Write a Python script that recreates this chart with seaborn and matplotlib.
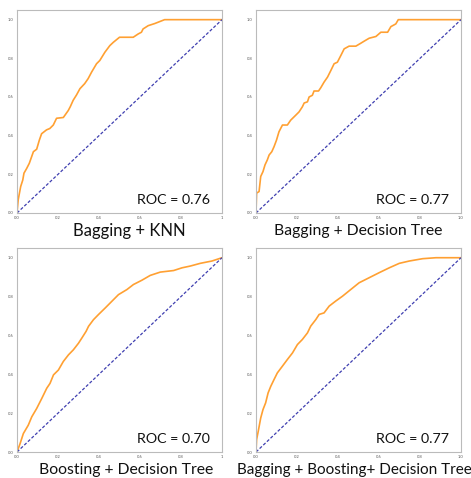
import numpy as np
import pandas as pd
import matplotlib
matplotlib.use('Agg')
import matplotlib.pyplot as plt
import seaborn as sns

# ROC curves (false positive rate, true positive rate)
knn_fpr = [0, 0.006, 0.018, 0.028, 0.034, 0.047, 0.06, 0.071, 0.08, 0.096, 0.109, 0.12, 0.144, 0.16,
           0.177, 0.193, 0.226, 0.234, 0.25, 0.26, 0.274, 0.29, 0.307, 0.33, 0.347, 0.364, 0.388,
           0.404, 0.429, 0.453, 0.47, 0.5, 0.567, 0.591, 0.607, 0.615, 0.64, 0.672, 0.696, 0.72, 1.0]
knn_tpr = [0, 0.069, 0.137, 0.17, 0.206, 0.23, 0.257, 0.29, 0.317, 0.33, 0.377, 0.41, 0.43, 0.437,
           0.455, 0.49, 0.494, 0.506, 0.53, 0.55, 0.583, 0.61, 0.643, 0.669, 0.695, 0.729, 0.772,
           0.789, 0.832, 0.866, 0.883, 0.909, 0.909, 0.926, 0.935, 0.952, 0.969, 0.98, 0.99, 1.0, 1.0]

bag_dt_fpr = [0, 0.003, 0.015, 0.023, 0.034, 0.044, 0.055, 0.064, 0.077, 0.088, 0.1, 0.112, 0.129,
              0.153, 0.169, 0.194, 0.21, 0.226, 0.235, 0.251, 0.259, 0.275, 0.283, 0.305, 0.316,
              0.332, 0.349, 0.365, 0.381, 0.397, 0.414, 0.43, 0.454, 0.487, 0.511, 0.528, 0.552,
              0.585, 0.609, 0.642, 0.658, 0.682, 0.694, 1.0]
bag_dt_tpr = [0, 0.103, 0.111, 0.189, 0.214, 0.249, 0.274, 0.3, 0.317, 0.343, 0.377, 0.42, 0.455,
              0.455, 0.48, 0.506, 0.523, 0.549, 0.569, 0.575, 0.6, 0.609, 0.631, 0.631, 0.648,
              0.677, 0.703, 0.737, 0.772, 0.78, 0.815, 0.849, 0.863, 0.863, 0.878, 0.889, 0.904,
              0.913, 0.935, 0.935, 0.964, 0.978, 1.0, 1.0]

boost_dt_fpr = [0, 0.015, 0.031, 0.055, 0.072, 0.096, 0.121, 0.145, 0.161, 0.178, 0.202, 0.226,
                0.251, 0.275, 0.3, 0.316, 0.337, 0.349, 0.373, 0.397, 0.43, 0.463, 0.495, 0.536,
                0.568, 0.609, 0.65, 0.699, 0.764, 0.805, 0.845, 0.894, 0.951, 1.0]
boost_dt_tpr = [0, 0.043, 0.095, 0.138, 0.181, 0.224, 0.276, 0.328, 0.353, 0.397, 0.422, 0.466,
                0.5, 0.526, 0.56, 0.586, 0.621, 0.647, 0.681, 0.707, 0.741, 0.776, 0.81, 0.836,
                0.862, 0.884, 0.909, 0.926, 0.934, 0.948, 0.957, 0.971, 0.983, 1.0]

all_fpr = [0, 0.003, 0.011, 0.023, 0.034, 0.047, 0.059, 0.072, 0.088, 0.104, 0.129, 0.153, 0.178,
           0.202, 0.226, 0.251, 0.267, 0.292, 0.308, 0.332, 0.357, 0.389, 0.422, 0.463, 0.503,
           0.552, 0.601, 0.65, 0.699, 0.748, 0.813, 0.878, 1.0]
all_tpr = [0, 0.064, 0.107, 0.175, 0.218, 0.253, 0.304, 0.338, 0.373, 0.407, 0.442, 0.476, 0.51,
           0.553, 0.579, 0.613, 0.648, 0.682, 0.708, 0.716, 0.751, 0.777, 0.802, 0.837, 0.871,
           0.897, 0.923, 0.948, 0.971, 0.983, 0.995, 1.0, 1.0]

titles = ['Bagging + KNN', 'Bagging + Decision Tree',
          'Boosting + Decision Tree', 'Bagging + Boosting+ Decision Tree']
roc_labels = ['ROC = 0.76', 'ROC = 0.77', 'ROC = 0.70', 'ROC = 0.77']
last_xtick = ['1', '1.0', '1', '1.0']
ticks = [0.0, 0.2, 0.4, 0.6, 0.8, 1.0]

curves = [(knn_fpr, knn_tpr), (bag_dt_fpr, bag_dt_tpr),
          (boost_dt_fpr, boost_dt_tpr), (all_fpr, all_tpr)]

sns.set_style('white')
plt.rcParams['font.family'] = ['Lato', 'DejaVu Sans']

W, H = 471, 478
fig = plt.figure(figsize=(W / 100, H / 100), dpi=100)

# axes boxes in pixels: left, top, right, bottom
boxes = [(17, 10, 222, 213), (256, 10, 461, 213),
         (17, 248, 222, 452), (256, 248, 461, 452)]
title_y = [231, 231, 470, 470]
title_x = [129, 358, 126, 354]
title_size = [12, 11.3, 11.3, 11]

for i, (fpr, tpr) in enumerate(curves):
    l, t, r, b = boxes[i]
    ax = fig.add_axes([l / W, 1 - b / H, (r - l) / W, (b - t) / H])
    df = pd.DataFrame({'fpr': fpr, 'tpr': tpr})
    sns.lineplot(data=df, x='fpr', y='tpr', ax=ax, color='#ffa032', lw=1.2,
                 sort=False, estimator=None)
    sns.lineplot(x=[0, 1], y=[0, 1], ax=ax, color='#3f3fb0', lw=0.9,
                 linestyle=(0, (2.5, 1.5)))
    ax.set_xlim(0, 1)
    ax.set_ylim(0, 1.05)
    ax.set_xticks(ticks)
    ax.set_xticklabels(['0.0', '0.2', '0.4', '0.6', '0.8', last_xtick[i]])
    ax.set_yticks(ticks)
    ax.set_yticklabels(['0.0', '0.2', '0.4', '0.6', '0.8', '1.0'])
    ax.tick_params(labelsize=3, length=1.5, width=0.4, pad=1, colors='#555555')
    ax.set_xlabel('')
    ax.set_ylabel('')
    for s in ax.spines.values():
        s.set_color('#bbbbbb')
        s.set_linewidth(0.8)
    ax.text(0.94, 0.065, roc_labels[i], ha='right', va='center', fontsize=10.3,
            color='#111111', transform=ax.transData)
    fig.text(title_x[i] / W, 1 - title_y[i] / H, titles[i], ha='center', va='center',
             fontsize=title_size[i], color='#111111')

fig.savefig('out.png', dpi=100)
